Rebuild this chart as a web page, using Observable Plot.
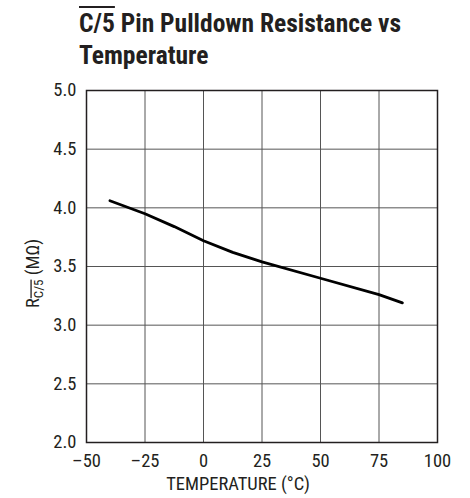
<!DOCTYPE html>
<html><head><meta charset="utf-8">
<script src="https://cdn.jsdelivr.net/npm/d3@7"></script>
<script src="https://cdn.jsdelivr.net/npm/@observablehq/plot@0.6"></script>
<style>
body{margin:0;background:#fff;width:470px;height:498px;position:relative;overflow:hidden}
#title{position:absolute;left:79px;top:7px;font-family:"Roboto Condensed","Roboto",sans-serif;font-stretch:condensed;font-weight:bold;font-size:25.5px;line-height:32px;color:#231f20;white-space:nowrap}
.ov{text-decoration:overline;text-decoration-thickness:1.5px}
#chart{position:absolute;left:0;top:78px}
</style></head><body>
<div id="title"><span class="ov">C/5</span> Pin Pulldown Resistance vs<br>Temperature</div>
<div id="chart"></div>
<script>
const temps = [-40, -25, -12.5, 0, 12.5, 25, 50, 75, 85];
const resistance = [4.06, 3.95, 3.84, 3.72, 3.62, 3.54, 3.40, 3.26, 3.19];
const xTicks = [-50, -25, 0, 25, 50, 75, 100];
const yTicks = [2.0, 2.5, 3.0, 3.5, 4.0, 4.5, 5.0];
const xLabel = "TEMPERATURE (°C)";

const data = temps.map((t, i) => ({t, r: resistance[i]}));
const font = "'Roboto Condensed', Roboto, sans-serif";

const chart = Plot.plot({
  width: 470, height: 420,
  marginTop: 12, marginLeft: 86, marginRight: 33, marginBottom: 56,
  style: {fontFamily: font, fontSize: "18.5px", color: "#231f20", background: "#fff", fontStretch: "condensed"},
  x: {domain: [-50, 100], label: null},
  y: {domain: [2, 5], label: null},
  marks: [
    Plot.gridX(xTicks, {stroke: "#555", strokeOpacity: 1, strokeWidth: 1}),
    Plot.gridY(yTicks, {stroke: "#555", strokeOpacity: 1, strokeWidth: 1}),
    Plot.axisX(xTicks, {tickSize: 0, tickPadding: 11, label: null, fontSize: 18.5,
      tickFormat: d => d < 0 ? "\u2013" + Math.abs(d) : String(d)}),
    Plot.axisY(yTicks, {tickSize: 0, tickPadding: 10, label: null, fontSize: 18.5, tickFormat: d => d.toFixed(1)}),
    Plot.frame({stroke: "#231f20", strokeWidth: 1.5}),
    Plot.line(data, {x: "t", y: "r", curve: "linear", stroke: "#000", strokeWidth: 2.8}),
    Plot.text([xLabel], {frameAnchor: "bottom", dx: -24, dy: 47, fontSize: 18.5}),
    Plot.text(["YLABEL"], {frameAnchor: "left", textAnchor: "middle", dx: -53, dy: 7, rotate: -90, fontSize: 18.5})
  ]
});
document.getElementById("chart").appendChild(chart);

d3.select(chart).selectAll("text").filter(function() { return this.textContent === "YLABEL"; })
  .each(function() {
    const t = d3.select(this);
    t.text(null);
    t.append("tspan").text("R");
    t.append("tspan").attr("font-size", 13).attr("dy", 4).attr("text-decoration", "overline").text("C/5");
    t.append("tspan").attr("dy", -4).text(" (M\u03A9)");
  });
</script>
</body></html>
